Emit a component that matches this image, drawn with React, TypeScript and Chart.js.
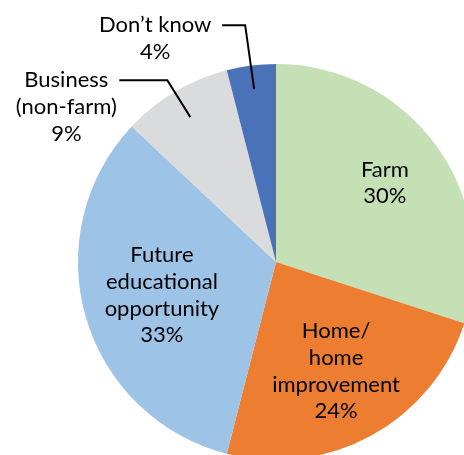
import React, { useEffect, useRef } from "react";
import { Chart, registerables } from "chart.js";

Chart.register(...registerables);

const categories = ["Farm", "Home/ home improvement", "Future educational opportunity", "Business (non-farm)", "Don\u2019t know"];
const values = [30, 24, 33, 9, 4];
const labelLines = [
  ["Farm", "30%"],
  ["Home/", "home", "improvement", "24%"],
  ["Future", "educational", "opportunity", "33%"],
  ["Business", "(non-farm)", "9%"],
  ["Don\u2019t know", "4%"],
];
const colors = ["#C5E0B4", "#ED7D31", "#9DC3E6", "#DADBDD", "#4A72B8"];

const FONT = "22px Lato";
const LINE_H = 26.7;

// inside labels: radial fraction; outside labels: leader line config
const labelCfg: any[] = [
  { type: "in", frac: 0.68 },
  { type: "in", frac: 0.63 },
  { type: "in", frac: 0.6 },
  { type: "out", frac: 0.85, elbow: [-23, -37], end: [-71, -37], text: [-124, -37] },
  { type: "out", frac: 0.88, elbow: [-9, -64], end: [-32, -64], text: [-99, -64] },
];

const labelPlugin = {
  id: "pieLabels",
  afterDraw(chart: any) {
    const ctx = chart.ctx;
    const meta = chart.getDatasetMeta(0);
    ctx.save();
    ctx.font = FONT;
    ctx.fillStyle = "#000";
    ctx.textAlign = "center";
    ctx.textBaseline = "middle";
    meta.data.forEach((arc: any, i: number) => {
      const { x, y, startAngle, endAngle, outerRadius } = arc.getProps(
        ["x", "y", "startAngle", "endAngle", "outerRadius"], true);
      const mid = (startAngle + endAngle) / 2;
      const cfg = labelCfg[i];
      const px = x + Math.cos(mid) * outerRadius * cfg.frac;
      const py = y + Math.sin(mid) * outerRadius * cfg.frac;
      const lines = labelLines[i];
      if (cfg.type === "in") {
        const top = py - ((lines.length - 1) * LINE_H) / 2;
        lines.forEach((l, k) => ctx.fillText(l, px, top + k * LINE_H));
      } else {
        ctx.strokeStyle = "#000";
        ctx.lineWidth = 2;
        ctx.beginPath();
        ctx.moveTo(px, py);
        ctx.lineTo(px + cfg.elbow[0], py + cfg.elbow[1]);
        ctx.lineTo(px + cfg.end[0], py + cfg.end[1]);
        ctx.stroke();
        const cx = px + cfg.text[0];
        const cy = py + cfg.text[1];
        lines.forEach((l, k) => ctx.fillText(l, cx, cy + k * LINE_H));
      }
    });
    ctx.restore();
  },
};

export default function App() {
  const ref = useRef<HTMLCanvasElement>(null);
  useEffect(() => {
    if (!ref.current) return;
    const chart = new Chart(ref.current, {
      type: "pie",
      data: {
        labels: categories,
        datasets: [{ data: values, backgroundColor: colors, borderWidth: 0 }],
      },
      options: {
        responsive: false,
        animation: false,
        devicePixelRatio: 1,
        layout: { padding: { left: 78, right: 78, top: 64, bottom: 64 } },
        plugins: { legend: { display: false }, tooltip: { enabled: false } },
      },
      plugins: [labelPlugin],
    });
    return () => chart.destroy();
  }, []);
  return (
    <div style={{ position: "fixed", left: 0, top: 0, width: 464, height: 455, overflow: "hidden", background: "#fff" }}>
      <canvas ref={ref} width={552} height={524} style={{ position: "absolute", left: 0, top: 0, width: 552, height: 524 }} />
    </div>
  );
}
